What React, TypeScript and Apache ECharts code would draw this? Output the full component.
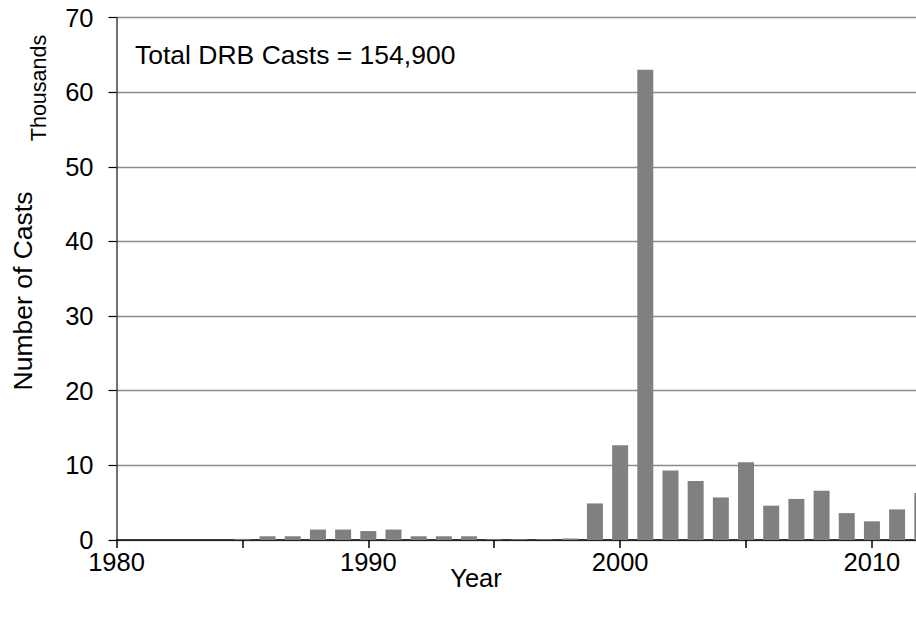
import React, { useEffect, useRef } from "react";
import * as echarts from "echarts";

const years = [
  1980, 1981, 1982, 1983, 1984, 1985, 1986, 1987, 1988, 1989,
  1990, 1991, 1992, 1993, 1994, 1995, 1996, 1997, 1998, 1999,
  2000, 2001, 2002, 2003, 2004, 2005, 2006, 2007, 2008, 2009,
  2010, 2011, 2012,
];
// thousands of casts
const casts = [
  0, 0, 0, 0, 0, 0.15, 0.5, 0.5, 1.4, 1.4,
  1.2, 1.4, 0.5, 0.5, 0.5, 0.1, 0.1, 0.1, 0.2, 4.9,
  12.7, 63.0, 9.3, 7.9, 5.7, 10.4, 4.6, 5.5, 6.6, 3.6,
  2.5, 4.1, 6.3,
];
const xTickValues = [1980, 1985, 1990, 1995, 2000, 2005, 2010];
const xLabelValues = [1980, 1990, 2000, 2010];
const annotation = "Total DRB Casts = 154,900";
const yTitle = "Number of Casts";
const yUnit = "Thousands";
const xTitle = "Year";

const FONT = "'Liberation Sans', Arial, sans-serif";

export default function App() {
  const ref = useRef<HTMLDivElement>(null);
  useEffect(() => {
    if (!ref.current) return;
    const chart = echarts.init(ref.current, undefined, { renderer: "svg" });
    chart.setOption({
      animation: false,
      backgroundColor: "#ffffff",
      textStyle: { fontFamily: FONT },
      grid: { left: 116.5, right: 0, top: 17.5, bottom: 79, containLabel: false },
      xAxis: {
        type: "value",
        min: 1980,
        max: 2011.75,
        interval: 5,
        splitLine: { show: false },
        axisLine: { show: true, lineStyle: { color: "#000000", width: 1.5 } },
        axisTick: {
          show: true,
          length: 8,
          customValues: xTickValues,
          lineStyle: { color: "#000000", width: 1.5 },
        },
        axisLabel: {
          customValues: xLabelValues,
          formatter: (v: number) => String(v),
          fontSize: 25.5,
          color: "#000000",
          fontFamily: FONT,
          margin: 9,
        },
      },
      yAxis: {
        type: "value",
        min: 0,
        max: 70,
        interval: 10,
        axisLine: { show: true, lineStyle: { color: "#404040", width: 1.5 } },
        axisTick: { show: true, length: 8, lineStyle: { color: "#000000", width: 1.2 } },
        axisLabel: { fontSize: 25.5, color: "#000000", fontFamily: FONT, margin: 23 },
        splitLine: { show: true, lineStyle: { color: "#8c8c8c", width: 1.3 } },
      },
      series: [
        {
          type: "bar",
          data: years.map((y, i) => [y, casts[i]]),
          barWidth: 16,
          itemStyle: { color: "#808080" },
          clip: true,
        },
      ],
      graphic: [
        {
          type: "text",
          left: 135,
          top: 41,
          style: { text: annotation, fontSize: 26.5, fill: "#000000", fontFamily: FONT },
        },
        {
          type: "text",
          x: 23,
          y: 291,
          rotation: Math.PI / 2,
          style: {
            text: yTitle,
            fontSize: 26.5,
            fill: "#000000",
            fontFamily: FONT,
            align: "center",
            verticalAlign: "middle",
          },
        },
        {
          type: "text",
          x: 39,
          y: 88,
          rotation: Math.PI / 2,
          style: {
            text: yUnit,
            fontSize: 21.5,
            fill: "#000000",
            fontFamily: FONT,
            align: "center",
            verticalAlign: "middle",
          },
        },
        {
          type: "text",
          x: 476,
          y: 578,
          style: {
            text: xTitle,
            fontSize: 25.5,
            fill: "#000000",
            fontFamily: FONT,
            align: "center",
            verticalAlign: "middle",
          },
        },
      ],
    });
    return () => chart.dispose();
  }, []);
  return (
    <div
      ref={ref}
      style={{ position: "fixed", left: 0, top: 0, width: 916, height: 619 }}
    />
  );
}
